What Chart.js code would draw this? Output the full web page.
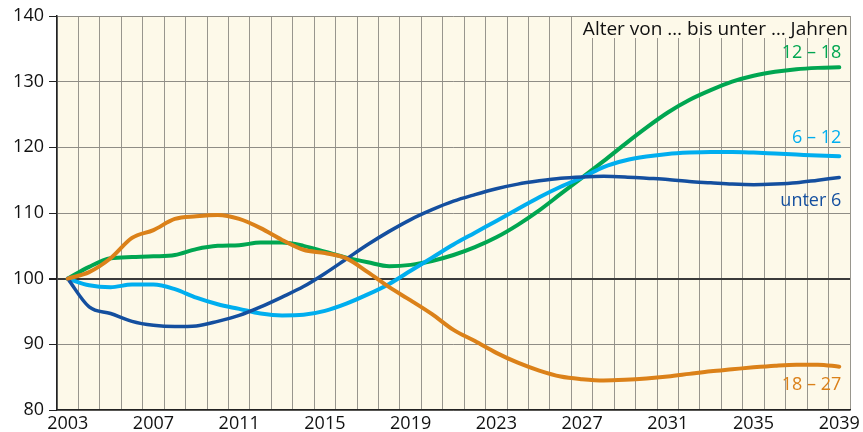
<!DOCTYPE html>
<html>
<head>
<meta charset="utf-8">
<script src="https://cdn.jsdelivr.net/npm/chart.js@4/dist/chart.umd.min.js"></script>
<style>
  html, body { margin: 0; padding: 0; background: #fff; }
  canvas { display: block; }
</style>
</head>
<body>
<canvas id="chart" width="863" height="432"></canvas>
<script>
// Jahre (Kategorien)
const years = [
  '2003','2004','2005','2006','2007','2008','2009','2010','2011','2012',
  '2013','2014','2015','2016','2017','2018','2019','2020','2021','2022',
  '2023','2024','2025','2026','2027','2028','2029','2030','2031','2032',
  '2033','2034','2035','2036','2037','2038','2039'
];

// Index 2003 = 100
const unter6 = [
  100, 95.7, 94.7, 93.5, 92.9, 92.7, 92.8, 93.5, 94.4, 95.7,
  97.2, 98.8, 100.8, 103.0, 105.2, 107.2, 109.0, 110.5, 111.8, 112.8,
  113.7, 114.4, 114.9, 115.3, 115.5, 115.6, 115.5, 115.3, 115.1, 114.8,
  114.6, 114.4, 114.3, 114.4, 114.6, 115.0, 115.4
];
const von6bis12 = [
  100, 99.0, 98.7, 99.1, 99.1, 98.4, 97.1, 96.1, 95.4, 94.7,
  94.4, 94.5, 95.1, 96.2, 97.6, 99.2, 101.2, 103.2, 105.2, 107.0,
  108.8, 110.6, 112.4, 114.0, 115.4, 117.0, 118.0, 118.6, 119.0, 119.2,
  119.3, 119.3, 119.2, 119.05, 118.9, 118.75, 118.65
];
const von12bis18 = [
  100, 101.8, 103.1, 103.3, 103.4, 103.6, 104.5, 105.0, 105.1, 105.5,
  105.5, 105.0, 104.1, 103.2, 102.5, 101.9, 102.1, 102.7, 103.6, 104.8,
  106.3, 108.2, 110.4, 112.9, 115.4, 117.9, 120.5, 123.0, 125.3, 127.2,
  128.7, 130.0, 130.9, 131.5, 131.9, 132.1, 132.2
];
const von18bis27 = [
  100, 101.0, 103.1, 106.2, 107.4, 109.1, 109.5, 109.7, 109.1, 107.7,
  105.9, 104.4, 103.9, 103.1, 101.0, 98.7, 96.7, 94.6, 92.2, 90.5,
  88.7, 87.2, 86.0, 85.1, 84.7, 84.5, 84.6, 84.8, 85.1, 85.5,
  85.9, 86.2, 86.5, 86.75, 86.9, 86.9, 86.6
];

const yTicks = [80, 90, 100, 110, 120, 130, 140];

const cGreen = '#00a651';
const cLight = '#00aeef';
const cDark = '#144f9f';
const cOrange = '#db8119';

const font = '"Open Sans", "Noto Sans", sans-serif';

// Beschriftungen an den Linienenden (Wert = Höhe der Beschriftung)
const seriesLabels = [
  { text: '12 – 18', color: cGreen, value: 134.4 },
  { text: '6 – 12', color: cLight, value: 121.4 },
  { text: 'unter 6', color: cDark, value: 111.9 },
  { text: '18 – 27', color: cOrange, value: 83.8 },
];
const title = 'Alter von … bis unter … Jahren';

function line(label, data, color, width) {
  return {
    label: label,
    data: data,
    borderColor: color,
    borderWidth: width,
    pointRadius: 0,
    fill: false,
    cubicInterpolationMode: 'monotone',
    borderCapStyle: 'round',
    borderJoinStyle: 'round',
  };
}

// Hintergrund der Zeichenfläche
const bgPlugin = {
  id: 'bg',
  beforeDraw(chart) {
    const { ctx, chartArea: a } = chart;
    ctx.save();
    ctx.fillStyle = '#fdf9e9';
    ctx.fillRect(a.left, a.top, a.right - a.left, a.bottom - a.top);
    ctx.restore();
  },
};

// Titelkasten und Serienbeschriftungen
const textPlugin = {
  id: 'texts',
  beforeDatasetsDraw(chart) {
    const { ctx, chartArea: a } = chart;
    ctx.save();
    ctx.font = '19px ' + font;
    const w = ctx.measureText(title).width;
    ctx.fillStyle = '#fdf9e9';
    ctx.fillRect(a.right - w - 6, a.top + 1, w + 5, 21);
    ctx.fillStyle = '#111';
    ctx.textAlign = 'right';
    ctx.textBaseline = 'alphabetic';
    ctx.fillText(title, a.right - 2, a.top + 19);
    ctx.restore();
  },
  afterDatasetsDraw(chart) {
    const { ctx, scales } = chart;
    const x = scales.x.getPixelForValue(years.length - 1) + 2;
    ctx.save();
    ctx.font = '18px ' + font;
    ctx.textAlign = 'right';
    ctx.textBaseline = 'middle';
    seriesLabels.forEach((l) => {
      ctx.fillStyle = l.color;
      ctx.fillText(l.text, x, scales.y.getPixelForValue(l.value));
    });
    ctx.restore();
  },
};

const chart = new Chart(document.getElementById('chart'), {
  type: 'line',
  data: {
    labels: years,
    datasets: [
      line('18 – 27', von18bis27, cOrange, 4),
      line('unter 6', unter6, cDark, 3.5),
      line('6 – 12', von6bis12, cLight, 4),
      line('12 – 18', von12bis18, cGreen, 4),
    ],
  },
  options: {
    responsive: false,
    animation: false,
    layout: { padding: { top: 16, right: 9, left: 0, bottom: 0 } },
    plugins: { legend: { display: false }, tooltip: { enabled: false } },
    scales: {
      x: {
        type: 'category',
        offset: true,
        grid: {
          offset: true,
          color: '#98968e',
          lineWidth: 1,
          drawTicks: false,
        },
        border: { color: '#222', width: 1.5 },
        ticks: {
          autoSkip: false,
          maxRotation: 0,
          padding: 3,
          color: '#111',
          font: { family: font, size: 18 },
          callback: (v, i) => (i % 4 === 0 ? years[i] : ''),
        },
        afterFit: (s) => { s.height = 22; },
      },
      y: {
        min: 80,
        max: 140,
        afterBuildTicks: (s) => { s.ticks = yTicks.map((v) => ({ value: v })); },
        grid: {
          color: (c) => (c.tick && c.tick.value === 100 ? '#3a3a3a' : '#8f8d86'),
          lineWidth: (c) => (c.tick && c.tick.value === 100 ? 2 : 1),
          tickLength: 8,
          tickColor: '#222',
        },
        border: { color: '#222', width: 1.5 },
        ticks: {
          padding: 5,
          color: '#111',
          font: { family: font, size: 18 },
        },
        afterFit: (s) => { s.width = 57; },
      },
    },
  },
  plugins: [bgPlugin, textPlugin],
});
</script>
</body>
</html>
